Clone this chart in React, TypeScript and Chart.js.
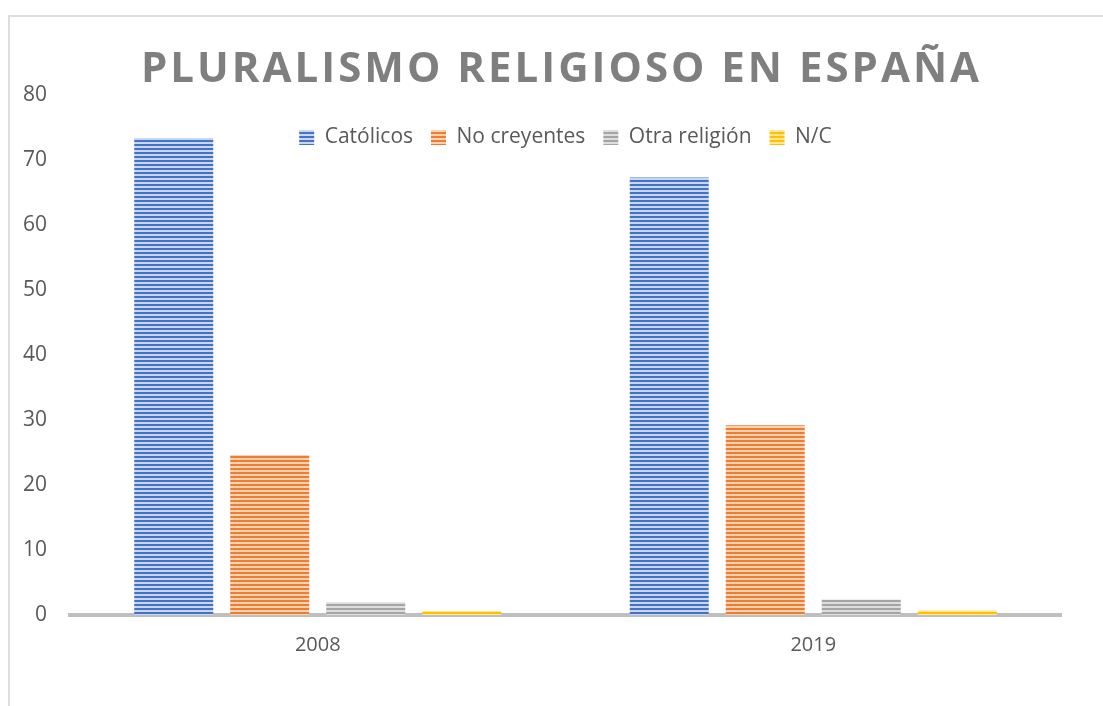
import React, { useEffect, useRef } from "react";
import { Chart, registerables } from "chart.js";

Chart.register(...registerables);

const titleText = "PLURALISMO RELIGIOSO EN ESPAÑA";
const categories = ["2008", "2019"];
const seriesNames = ["Católicos", "No creyentes", "Otra religión", "N/C"];
const catolicos = [73.4, 67.3];
const noCreyentes = [24.6, 29.2];
const otraReligion = [1.95, 2.4];
const noContesta = [0.6, 0.75];
const yMin = 0;
const yMax = 80;
const yStep = 10;

const darkColors = ["#4472C4", "#ED7D31", "#A5A5A5", "#FFC000"];
const lightColors = ["#C9D6EF", "#F9D2B6", "#DDDDDD", "#FFE699"];

function stripePattern(dark: string, light: string): CanvasPattern | string {
  const c = document.createElement("canvas");
  c.width = 4;
  c.height = 4;
  const g = c.getContext("2d");
  if (!g) return dark;
  g.fillStyle = light;
  g.fillRect(0, 0, 4, 4);
  g.fillStyle = dark;
  g.fillRect(0, 0, 4, 2);
  const p = g.createPattern(c, "repeat");
  return p || dark;
}

const titlePlugin = {
  id: "spacedTitle",
  afterDraw(chart: any) {
    const ctx = chart.ctx as CanvasRenderingContext2D;
    ctx.save();
    ctx.font = "bold 42px 'Open Sans'";
    ctx.fillStyle = "#7F7F7F";
    ctx.textAlign = "left";
    ctx.textBaseline = "alphabetic";
    (ctx as any).letterSpacing = "3px";
    ctx.fillText(titleText, 141, 82);
    ctx.restore();
  },
};

// Move the (non full-size) top legend down inside the plot area, as in the reference.
const legendShiftPlugin = {
  id: "legendShift",
  afterLayout(chart: any) {
    const l = chart.legend;
    if (l) {
      const h = l.height;
      l.left = chart.chartArea.left;
      l.right = chart.chartArea.right;
      l.top = chart.chartArea.top + 14;
      l.bottom = l.top + h;
    }
  },
};

export default function App() {
  const ref = useRef<HTMLCanvasElement | null>(null);

  useEffect(() => {
    if (!ref.current) return;
    Chart.defaults.font.family = "'Open Sans'";
    const values = [catolicos, noCreyentes, otraReligion, noContesta];
    const datasets = seriesNames.map((name, i) => {
      const pat = stripePattern(darkColors[i], lightColors[i]);
      return {
        label: name,
        data: values[i],
        backgroundColor: pat as any,
        borderWidth: 0,
        categoryPercentage: 0.775,
        barPercentage: 0.823,
      };
    });
    const chart = new Chart(ref.current, {
      type: "bar",
      data: { labels: categories, datasets },
      options: {
        animation: false,
        responsive: false,
        devicePixelRatio: 1,
        layout: { padding: { left: 8, right: 42, top: 46, bottom: 31 } },
        plugins: {
          title: { display: false },
          tooltip: { enabled: false },
          legend: {
            display: true,
            position: "top",
            align: "center",
            fullSize: false,
            labels: {
              boxWidth: 15,
              boxHeight: 15,
              padding: 18,
              color: "#595959",
              font: { size: 21, family: "'Open Sans'" },
            },
          },
        },
        scales: {
          x: {
            grid: { display: false, drawTicks: false },
            border: { display: true, color: "#BFBFBF", width: 4 },
            ticks: { color: "#595959", font: { size: 20 }, padding: 18 },
            afterFit: (s: any) => {
              s.height = 60;
            },
          },
          y: {
            min: yMin,
            max: yMax,
            grid: { display: false, drawTicks: false },
            border: { display: false },
            ticks: { stepSize: yStep, color: "#595959", font: { size: 21 }, padding: 23 },
            afterFit: (s: any) => {
              s.width = 62;
            },
          },
        },
      },
      plugins: [titlePlugin, legendShiftPlugin],
    } as any);
    return () => chart.destroy();
  }, []);

  return (
    <div
      style={{
        position: "fixed",
        left: 0,
        top: 0,
        width: 1103,
        height: 706,
        overflow: "hidden",
        background: "#FFFFFF",
      }}
    >
      <canvas
        ref={ref}
        width={1103}
        height={706}
        style={{ position: "absolute", left: 0, top: 0, width: 1103, height: 706 }}
      />
      <div
        style={{
          position: "absolute",
          left: 8,
          top: 15,
          width: 1200,
          height: 800,
          borderLeft: "2px solid #DEDEDE",
          borderTop: "2px solid #DEDEDE",
          pointerEvents: "none",
        }}
      />
    </div>
  );
}
